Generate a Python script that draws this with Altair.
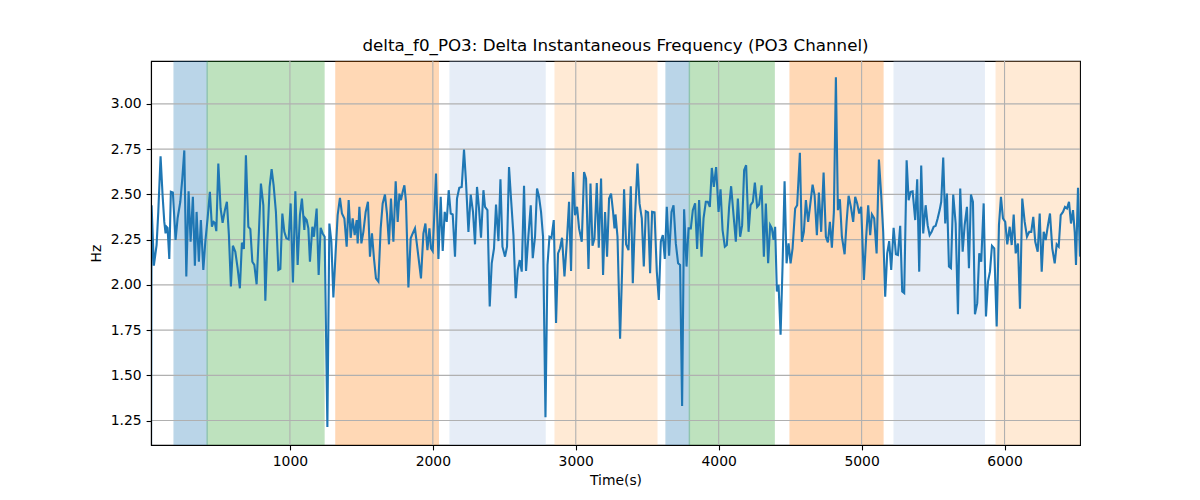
import altair as alt
import pandas as pd

# ---------------- data ----------------
time_s = [
    28, 32, 48, 67, 79, 95, 109, 121, 130, 137,
    144, 156, 167, 181, 200, 214, 233, 247, 261, 275,
    291, 305, 321, 335, 347, 363, 377, 394, 408, 424,
    440, 454, 466, 475, 485, 499, 515, 529, 545, 559,
    573, 587, 601, 618, 634, 650, 664, 678, 692, 709,
    723, 737, 751, 767, 783, 797, 814, 828, 842, 858,
    872, 886, 902, 919, 933, 947, 961, 975, 991, 1005,
    1021, 1038, 1054, 1070, 1084, 1101,
    1105, 1117, 1129, 1140, 1157, 1168, 1187, 1201, 1215, 1229,
    1243, 1262, 1276, 1290, 1304, 1320, 1334, 1350, 1364, 1381,
    1397, 1411, 1425, 1439, 1453, 1467, 1474, 1486, 1500, 1514,
    1530, 1546, 1560, 1574, 1588, 1602, 1619, 1635, 1649, 1665,
    1679, 1693, 1707, 1724, 1740, 1754, 1766, 1777, 1789, 1801,
    1812, 1829, 1845, 1859, 1875, 1892, 1917, 1934, 1948, 1962,
    1976, 1987, 1999, 2011, 2022, 2039, 2055, 2069, 2083, 2097,
    2111, 2125, 2139, 2155, 2169, 2185,
    2202, 2218, 2232, 2249, 2265, 2281, 2295, 2309, 2323, 2337,
    2354, 2365, 2382, 2398, 2412, 2428, 2442, 2459, 2473, 2487,
    2505, 2519, 2533, 2547, 2564, 2580, 2594, 2608, 2622, 2638,
    2652, 2669, 2685, 2699, 2715, 2729, 2743, 2757, 2771, 2788,
    2802, 2816, 2830, 2846, 2862, 2876, 2890, 2904, 2921, 2939,
    2953, 2967, 2981, 2995, 3009, 3023, 3042, 3058, 3072, 3089,
    3103, 3117, 3131, 3147, 3161, 3177, 3191, 3205, 3219, 3233,
    3247, 3261, 3271,
    3278, 3292, 3310, 3324, 3338, 3352, 3369, 3385, 3399, 3415,
    3432, 3446, 3462, 3476, 3490, 3506, 3520, 3534, 3551, 3567,
    3581, 3595, 3609, 3623, 3637, 3653, 3670, 3684, 3700, 3716,
    3730, 3744, 3758, 3775, 3789, 3805, 3819, 3835, 3849, 3863,
    3880, 3894, 3910, 3924, 3938, 3952, 3966, 3982, 3999, 4013,
    4027, 4043, 4057, 4073, 4087, 4104, 4120, 4134, 4150, 4164,
    4178, 4192, 4209, 4223, 4239, 4253, 4269, 4283, 4300, 4316,
    4330, 4346, 4360,
    4372, 4384, 4395, 4407, 4419, 4433, 4447, 4461, 4475, 4489,
    4503, 4517, 4535, 4549, 4568, 4582, 4596, 4610, 4626, 4640,
    4657, 4671, 4687, 4701, 4717, 4734, 4750, 4764, 4778, 4792,
    4806, 4820, 4834, 4848, 4862, 4881, 4895, 4909, 4925, 4941,
    4955, 4969, 4983, 4997, 5016, 5032, 5046, 5060, 5072, 5088,
    5105, 5121, 5137, 5151, 5165, 5179, 5193, 5207, 5224, 5240,
    5254, 5270, 5284, 5298, 5315, 5329, 5343, 5357, 5375, 5389,
    5403, 5417, 5431,
    5448, 5462, 5476, 5490, 5504, 5518, 5532, 5546, 5557, 5571,
    5585, 5597, 5611, 5625, 5641, 5658, 5674, 5690, 5707, 5721,
    5737, 5751, 5765, 5779, 5793, 5809, 5823, 5837, 5854, 5870,
    5884, 5898, 5912, 5928, 5945, 5961, 5975, 5989, 6005, 6019,
    6036, 6050, 6064, 6078, 6094, 6108, 6124, 6141, 6157, 6173,
    6187, 6201, 6215, 6232, 6246, 6260, 6274, 6288, 6304, 6318,
    6334, 6351, 6365, 6379, 6393, 6409, 6423, 6437, 6451, 6465,
    6479, 6491, 6500, 6514, 6528,
]

delta_hz = [
    1.00, 2.440, 2.106, 2.220, 2.403, 2.710, 2.495, 2.348, 2.284, 2.321,
    2.315, 2.143, 2.514, 2.510, 2.248, 2.367, 2.459, 2.587, 2.743, 2.046,
    2.517, 2.238, 2.486, 2.106, 2.403, 2.128, 2.358, 2.082, 2.238, 2.367,
    2.514, 2.321, 2.348, 2.343, 2.297, 2.670, 2.422, 2.343, 2.413, 2.459,
    2.275, 1.991, 2.216, 2.183, 2.092, 1.981, 2.233, 2.198, 2.716, 2.321,
    2.308, 2.128, 2.110, 2.003, 2.293, 2.560, 2.440, 1.912, 2.238, 2.541,
    2.639, 2.550, 2.403, 2.082, 2.088, 2.394, 2.293, 2.257, 2.251, 2.450,
    2.013, 2.517, 2.110, 2.385, 2.477, 2.303,
    2.370, 2.358, 2.312, 2.128, 2.321, 2.266, 2.422, 2.055, 2.315, 2.284,
    2.266, 1.214, 2.339, 2.238, 1.930, 2.183, 2.385, 2.481, 2.394, 2.367,
    2.211, 2.468, 2.260, 2.367, 2.275, 2.358, 2.229, 2.431, 2.229, 2.293,
    2.403, 2.459, 2.156, 2.284, 2.147, 2.036, 2.018, 2.312, 2.450, 2.499,
    2.394, 2.224, 2.477, 2.238, 2.572, 2.348, 2.504, 2.468, 2.514, 2.550,
    2.459, 1.985, 2.257, 2.284, 2.312, 2.202, 2.036, 2.284, 2.339, 2.192,
    2.312, 2.202, 2.187, 2.403, 2.615, 2.143, 2.486, 2.187, 2.403, 2.348,
    2.523, 2.394, 2.389, 2.156, 2.477, 2.536,
    2.541, 2.747, 2.569, 2.293, 2.499, 2.403, 2.224, 2.541, 2.422, 2.260,
    2.523, 2.431, 2.413, 1.880, 2.119, 2.202, 2.444, 2.242, 2.583, 2.211,
    2.156, 2.211, 2.651, 2.477, 2.275, 1.926, 2.082, 2.137, 2.073, 2.547,
    2.077, 2.275, 2.440, 2.147, 2.266, 2.532, 2.486, 2.403, 2.266, 1.269,
    2.110, 2.266, 2.260, 2.358, 1.789, 2.174, 2.202, 2.260, 2.046, 2.257,
    2.459, 2.077, 2.624, 2.385, 2.431, 2.312, 2.238, 2.624, 2.587, 2.088,
    2.560, 2.216, 2.257, 2.563, 2.205, 2.587, 2.055, 2.403, 2.156, 2.477,
    2.504, 2.403, 2.312,
    2.389, 2.266, 1.702, 2.073, 2.528, 2.224, 2.192, 2.545, 2.009, 2.385,
    2.670, 2.450, 2.367, 2.101, 2.407, 2.400, 2.064, 2.403, 2.400, 2.073,
    1.917, 2.238, 2.275, 2.143, 2.431, 2.161, 2.403, 2.440, 2.229, 2.119,
    2.110, 1.330, 2.418, 2.101, 2.312, 2.312, 2.413, 2.450, 2.198, 2.468,
    2.156, 2.367, 2.459, 2.459, 2.431, 2.646, 2.541, 2.651, 2.403, 2.528,
    2.303, 2.211, 2.220, 2.431, 2.545, 2.385, 2.238, 2.477, 2.266, 2.330,
    2.633, 2.661, 2.293, 2.440, 2.459, 2.565, 2.431, 2.444, 2.550, 2.156,
    2.450, 2.119, 2.330,
    2.312, 2.248, 2.321, 1.963, 2.000, 1.724, 2.110, 2.572, 2.119, 2.229,
    2.119, 2.202, 2.422, 2.440, 2.730, 2.238, 2.293, 2.468, 2.348, 2.440,
    2.554, 2.495, 2.275, 2.510, 2.293, 2.620, 2.266, 2.235, 2.348, 2.205,
    2.403, 3.147, 2.413, 2.473, 2.266, 2.169, 2.348, 2.492, 2.431, 2.348,
    2.486, 2.450, 2.394, 2.431, 2.027, 2.266, 2.440, 2.275, 2.389, 2.367,
    2.174, 2.692, 2.495, 2.293, 1.935, 2.174, 2.242, 2.082, 2.315, 2.169,
    2.165, 2.326, 1.963, 1.954, 2.688, 2.468, 2.514, 2.517, 2.358, 2.583,
    2.073, 2.660, 2.284,
    2.440, 2.330, 2.275, 2.293, 2.321, 2.326, 2.367, 2.413, 2.459, 2.703,
    2.339, 2.504, 2.101, 2.092, 2.499, 2.339, 1.838, 2.532, 2.183, 2.330,
    2.431, 2.092, 2.499, 2.459, 1.838, 1.899, 2.174, 2.128, 2.450, 1.825,
    2.018, 2.073, 2.216, 2.202, 1.770, 2.330, 2.486, 2.367, 2.348, 2.224,
    2.321, 2.220, 2.389, 2.174, 2.229, 1.868, 2.477, 2.348, 2.266, 2.293,
    2.293, 2.376, 2.238, 2.183, 2.394, 2.073, 2.293, 2.248, 2.330, 2.394,
    2.202, 2.119, 2.224, 2.211, 2.385, 2.403, 2.431, 2.422, 2.459, 2.339,
    2.413, 2.293, 2.110, 2.536, 2.156,
]

span_start = [190, 421, 1322, 2121, 2856, 3632, 3795, 4500, 5228, 5942]
span_end = [421, 1238, 2038, 2785, 3567, 3795, 4388, 5149, 5858, 6600]
span_color = ["#1f77b4", "#2ca02c", "#ff7f0e", "#aec7e8", "#ffbb78",
              "#1f77b4", "#2ca02c", "#ff7f0e", "#aec7e8", "#ffbb78"]

x_ticks = [1000, 2000, 3000, 4000, 5000, 6000]
y_ticks = [1.25, 1.50, 1.75, 2.00, 2.25, 2.50, 2.75, 3.00]

x_domain = [28, 6528]
y_domain = [1.115, 3.237]

# ---------------- chart ----------------
line_df = pd.DataFrame({"t": time_s, "hz": delta_hz})
span_df = pd.DataFrame({"start": span_start, "end": span_end, "color": span_color})
xt_df = pd.DataFrame({"v": x_ticks})
yt_df = pd.DataFrame({"v": y_ticks})

xs = alt.Scale(domain=x_domain, nice=False, zero=False)
ys = alt.Scale(domain=y_domain, nice=False, zero=False)

x_axis = alt.Axis(values=x_ticks, format="d", title="Time(s)", grid=False,
                  titlePadding=5, zindex=1)
y_axis = alt.Axis(values=y_ticks, format=".2f", title="Hz", grid=False,
                  titlePadding=7, zindex=1)

spans = alt.Chart(span_df).mark_rect(opacity=0.3, strokeWidth=1.4, clip=True).encode(
    x=alt.X("start:Q", scale=xs, axis=x_axis),
    x2="end:Q",
    color=alt.Color("color:N", scale=None, legend=None),
    stroke=alt.Color("color:N", scale=None, legend=None),
)

vgrid = alt.Chart(xt_df).mark_rule(color="#b0b0b0", strokeWidth=1.1).encode(
    x=alt.X("v:Q", scale=xs, axis=x_axis)
)
hgrid = alt.Chart(yt_df).mark_rule(color="#b0b0b0", strokeWidth=1.1).encode(
    y=alt.Y("v:Q", scale=ys, axis=y_axis)
)

line = alt.Chart(line_df).mark_line(color="#1f77b4", strokeWidth=2.1, clip=True).encode(
    x=alt.X("t:Q", scale=xs, axis=x_axis),
    y=alt.Y("hz:Q", scale=ys, axis=y_axis),
)

chart = alt.layer(spans, vgrid, hgrid, line).properties(
    width=929,
    height=384,
    padding={"left": 81, "top": 30, "right": 10, "bottom": 10},
    title=alt.Title("delta_f0_PO3: Delta Instantaneous Frequency (PO3 Channel)",
                    fontSize=16.7, fontWeight="normal", font="DejaVu Sans",
                    color="black", offset=5.5),
).configure(
    font="DejaVu Sans",
).configure_view(
    stroke="black", strokeWidth=1.1,
).configure_axis(
    labelFont="DejaVu Sans", labelFontSize=13.9, labelColor="black",
    titleFont="DejaVu Sans", titleFontSize=13.9, titleFontWeight="normal",
    titleColor="black", tickColor="black", domainColor="black",
    tickSize=4.9, tickWidth=1.1, domainWidth=1.1, labelPadding=4.9,
)

chart.save("out.html", embed_options={"renderer": "svg", "actions": False})
